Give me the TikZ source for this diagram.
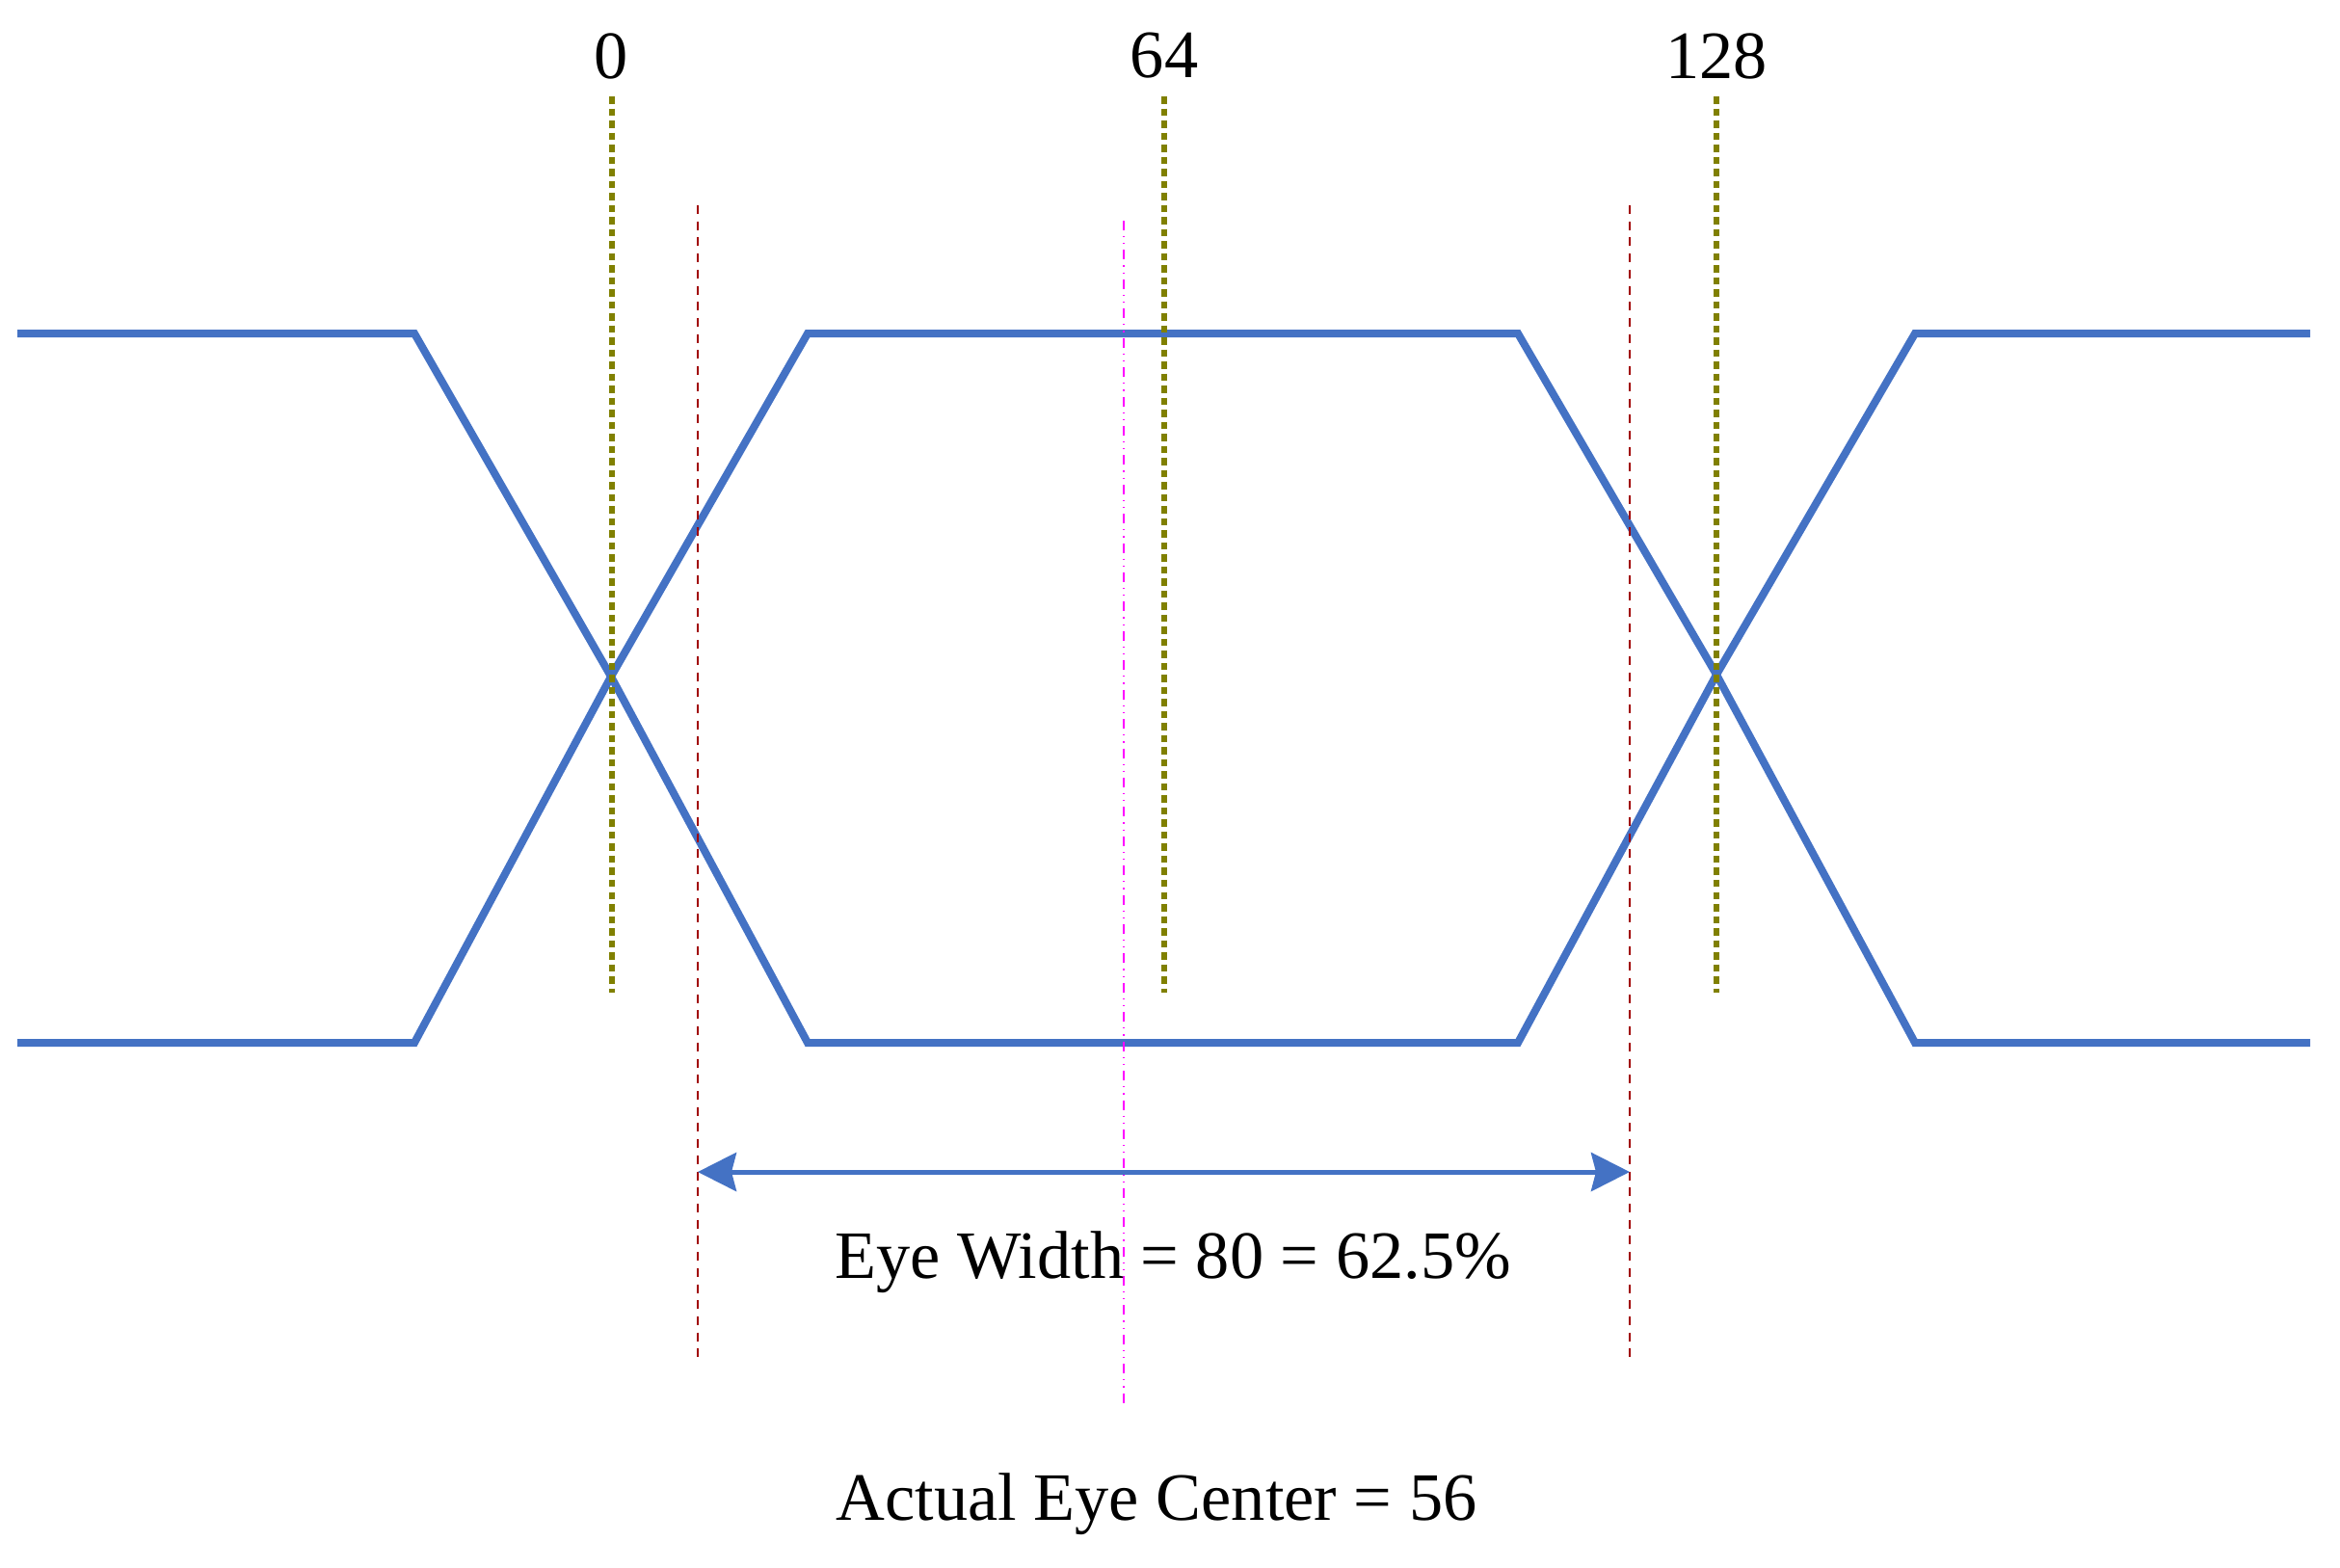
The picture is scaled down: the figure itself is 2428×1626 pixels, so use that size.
\documentclass[tikz,border=0pt]{standalone}
\usepackage{fontspec}
\setmainfont{Liberation Serif}
\usetikzlibrary{arrows.meta}
\definecolor{wave}{HTML}{4472C4}
\definecolor{olivel}{HTML}{808000}
\definecolor{redl}{HTML}{A00000}
\definecolor{magl}{HTML}{FF00FF}
\tikzset{
  waveline/.style={wave, line width=0.08cm, line join=miter},
  tickline/.style={olivel, line width=0.055cm, dash pattern=on 0.075cm off 0.05cm},
  edgeline/.style={redl, line width=0.015cm, dash pattern=on 0.09cm off 0.077cm},
  centerline/.style={magl, line width=0.013cm, dash pattern=on 0.10cm off 0.06cm on 0.012cm off 0.06cm on 0.012cm off 0.06cm},
  lbl/.style={font=\fontsize{20}{24}\selectfont, inner sep=0pt},
  widtharrow/.style={wave, line width=0.05cm, {Stealth[length=0.40cm,width=0.40cm,inset=0.05cm]}-{Stealth[length=0.40cm,width=0.40cm,inset=0.05cm]}}
}
\begin{document}
\begin{tikzpicture}[x=0.01cm, y=-0.01cm]
\useasboundingbox (0,0) rectangle (2428,1626);
% waveforms
\draw[waveline] (18,346) -- (430,346) -- (634,702) -- (838,1082) -- (1575,1082) -- (1781,700) -- (1987,346) -- (2397,346);
\draw[waveline] (18,1082) -- (430,1082) -- (634,702) -- (838,346) -- (1575,346) -- (1781,700) -- (1987,1082) -- (2397,1082);
% tick lines
\coordinate (t0a) at (635,100); \coordinate (t0b) at (635,1030);
\coordinate (t64a) at (1208,100); \coordinate (t64b) at (1208,1030);
\coordinate (t128a) at (1781,100); \coordinate (t128b) at (1781,1030);
\draw[tickline] (t0a) -- (t0b);
\draw[tickline] (t64a) -- (t64b);
\draw[tickline] (t128a) -- (t128b);
\node[lbl] (l0) at (634,58) {0};
\node[lbl] (l64) at (1208,58) {64};
\node[lbl] (l128) at (1781,58) {128};
% eye edges
\coordinate (ela) at (724,213); \coordinate (elb) at (724,1408);
\coordinate (era) at (1691,213); \coordinate (erb) at (1691,1408);
\draw[edgeline] (ela) -- (elb);
\draw[edgeline] (era) -- (erb);
% actual centre
\coordinate (ca) at (1166,229); \coordinate (cb) at (1166,1460);
\draw[centerline] (ca) -- (cb);
% width arrow
\coordinate (al) at (724,1216); \coordinate (ar) at (1691,1216);
\draw[widtharrow] (al) -- (ar);
\node[lbl] (ew) at (1217,1310) {Eye Width = 80 = 62.5\%};
\node[lbl] (ac) at (1200,1561) {Actual Eye Center = 56};
\end{tikzpicture}
\end{document}
